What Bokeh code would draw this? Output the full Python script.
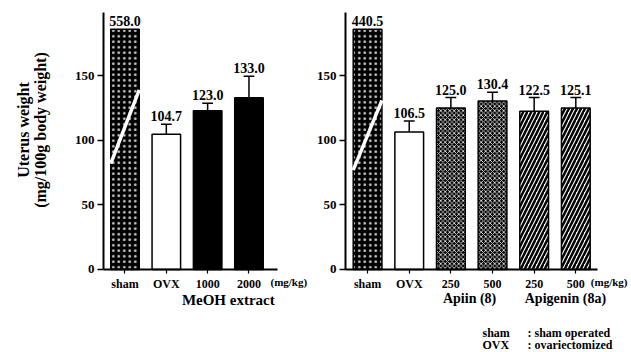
import numpy as np
from bokeh.plotting import figure
from bokeh.models import ColumnDataSource, Range1d, FixedTicker, Label
from bokeh.layouts import row
from bokeh.embed import file_html
from bokeh.resources import INLINE
from bokeh.core.properties import value

# ---- data ----
left_labels = ["sham", "OVX", "1000", "2000"]
left_values = [558.0, 104.7, 123.0, 133.0]
left_errors = [0.0, 7.7, 5.7, 16.7]

right_labels = ["sham", "OVX", "250", "500", "250", "500"]
right_values = [440.5, 106.5, 125.0, 130.4, 122.5, 125.1]
right_errors = [0.0, 8.5, 8.1, 6.8, 10.6, 8.0]

y_ticks = [0, 50, 100, 150]
y_max = 199.0
break_cap = 186.0            # sham bars are drawn truncated (axis break)
left_break = [82.0, 139.0]   # white break stroke across sham bar
right_break = [77.0, 131.0]

FONT = "Liberation Serif"
FONT_V = value(FONT)
BAR_W = 0.69


def panel(labels, values, errors, fills, hatches, hcolors, hscales, hweights,
          brk, x_range, x_bounds, width):
    n = len(labels)
    xs = list(range(n))
    shown = [min(v, break_cap) for v in values]
    tops = [s + e for s, e in zip(shown, errors)]
    src = ColumnDataSource(dict(
        x=xs, top=shown, fill=fills, hatch=hatches, hcol=hcolors,
        hscale=hscales, hweight=hweights, etop=tops,
        lab=[f"{v:.1f}" for v in values]))
    p = figure(width=width, height=352, output_backend="svg", toolbar_location=None,
               x_range=Range1d(*x_range), y_range=Range1d(-64.27, 208.28),
               min_border=0, min_border_left=0, min_border_right=0,
               min_border_top=0, min_border_bottom=0)
    p.outline_line_color = None
    p.grid.visible = False
    p.background_fill_color = None
    p.border_fill_color = None

    p.vbar(x="x", top="top", bottom=0, width=BAR_W, source=src,
           fill_color="fill", line_color="black", line_width=1.5,
           hatch_pattern="hatch", hatch_color="hcol", hatch_scale="hscale",
           hatch_weight="hweight")
    # break stroke on sham bar
    p.segment(x0=[xs[0] - BAR_W / 2], y0=[brk[0]], x1=[xs[0] + BAR_W / 2], y1=[brk[1]],
              line_color="white", line_width=3.5)
    # error bars (upper only)
    ex = [x for x, e in zip(xs, errors) if e > 0]
    eb = [s for s, e in zip(shown, errors) if e > 0]
    et = [t for t, e in zip(tops, errors) if e > 0]
    p.segment(x0=ex, y0=eb, x1=ex, y1=et, line_color="black", line_width=1.5)
    p.segment(x0=[x - 0.13 for x in ex], y0=et, x1=[x + 0.13 for x in ex], y1=et,
              line_color="black", line_width=1.5)
    p.text(x="x", y="etop", text="lab", source=src, text_align="center",
           text_baseline="bottom", y_offset=-3, text_font=FONT_V,
           text_font_style="bold", text_font_size="14px", text_color="black")

    yax = p.yaxis[0]
    yax.fixed_location = x_bounds[0]
    yax.bounds = (0, y_max)
    yax.ticker = FixedTicker(ticks=y_ticks)
    yax.axis_line_width = 2
    yax.major_tick_line_width = 1.5
    yax.major_tick_out = 6
    yax.major_tick_in = 0
    yax.minor_tick_line_color = None
    yax.major_label_text_font = FONT
    yax.major_label_text_font_style = "bold"
    yax.major_label_text_font_size = "13px"
    yax.major_label_standoff = 3
    yax.major_label_text_color = "black"

    xax = p.xaxis[0]
    xax.fixed_location = 0
    xax.bounds = x_bounds
    xax.ticker = FixedTicker(ticks=xs)
    xax.major_label_overrides = {i: l for i, l in enumerate(labels)}
    xax.axis_line_width = 2
    xax.major_tick_line_width = 1.2
    xax.major_tick_out = 4
    xax.major_tick_in = 0
    xax.minor_tick_line_color = None
    xax.major_label_text_font = FONT
    xax.major_label_text_font_style = "bold"
    xax.major_label_text_font_size = "12px"
    xax.major_label_standoff = 4
    xax.major_label_text_color = "black"
    return p


def lab(p, x, y, text, size="12px", align="left", angle=0.0):
    p.add_layout(Label(x=x, y=y, text=text, text_font=FONT, text_font_style="bold",
                       text_font_size=size, text_align=align, text_baseline="middle",
                       text_color="black", angle=angle))


left = panel(left_labels, left_values, left_errors,
             fills=["black", "white", "black", "black"],
             hatches=["dot", "blank", "blank", "blank"],
             hcolors=["#c8c8c8", "black", "black", "black"],
             hscales=[5.5, 8, 8, 8], hweights=[1.5, 1, 1, 1],
             brk=left_break, x_range=(-3.0121, 4.537), x_bounds=(-0.52, 3.69), width=312)

right = panel(right_labels, right_values, right_errors,
              fills=["black", "white", "black", "black", "white", "white"],
              hatches=["dot", "blank", "diagonal_cross", "diagonal_cross",
                       "right_diagonal_line", "right_diagonal_line"],
              hcolors=["#c8c8c8", "black", "white", "white", "black", "black"],
              hscales=[5.5, 8, 4.5, 4.5, 8, 8], hweights=[1.5, 1, 0.8, 0.8, 2.5, 2.5],
              brk=right_break, x_range=(-1.3223, 6.337), x_bounds=(-0.53, 5.52), width=319)

# axis title (left panel)
lab(left, -2.46, 108, "Uterus weight", size="16px", align="center", angle=np.pi / 2)
lab(left, -2.04, 108, "(mg/100g body weight)", size="16px", align="center", angle=np.pi / 2)
# units and group labels
lab(left, 3.52, -10, "(mg/kg)", size="11px")
lab(left, 2.5, -24, "MeOH extract", size="15px", align="center")
lab(right, 5.36, -10, "(mg/kg)", size="11px")
lab(right, 2.45, -22.5, "Apiin (8)", size="14px", align="center")
lab(right, 4.75, -22.5, "Apigenin (8a)", size="14px", align="center")
# legend
lab(right, 2.76, -49.5, "sham", size="12px")
lab(right, 3.84, -49.5, ": sham operated", size="12px")
lab(right, 2.76, -58.5, "OVX", size="12px")
lab(right, 3.84, -58.5, ": ovariectomized", size="12px")

layout = row(left, right)
open("out.html", "w").write(file_html(layout, INLINE))
